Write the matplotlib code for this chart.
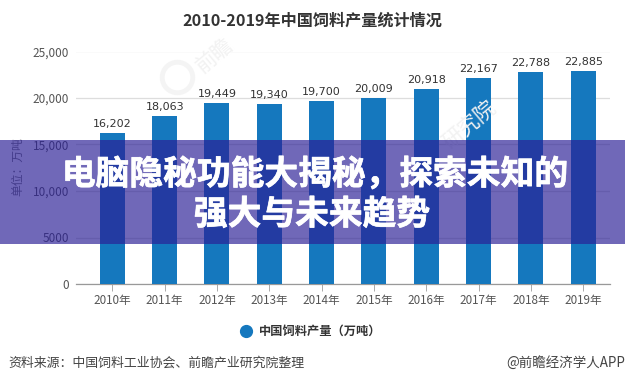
import matplotlib
matplotlib.use("Agg")
from matplotlib import pyplot as plt
from matplotlib.patches import Rectangle
import matplotlib.patheffects as pe

plt.rcParams['font.family'] = ['Noto Sans CJK SC', 'DejaVu Sans']

years = ['2010年', '2011年', '2012年', '2013年', '2014年', '2015年', '2016年', '2017年', '2018年', '2019年']
output = [16202, 18063, 19449, 19340, 19700, 20009, 20918, 22167, 22788, 22885]
yticks = [0, 5000, 10000, 15000, 20000, 25000]
ylabels = ['0', '5000', '10,000', '15,000', '20,000', '25,000']

W, H = 625, 384
fig = plt.figure(figsize=(W / 100, H / 100), dpi=100)
ax = fig.add_axes([76 / W, 1 - 284 / H, 534 / W, 232.5 / H])

xs = list(range(len(years)))
ax.bar(xs, output, width=0.478, color='#1578BE', zorder=3)
for x, v in zip(xs, output):
    ax.annotate('{:,}'.format(v), (x, v), xytext=(0, 3), textcoords='offset points',
                ha='center', va='bottom', fontsize=8, color='#333333', family='DejaVu Sans', zorder=4)

ax.set_xlim(-0.694, 9.51)
ax.set_ylim(0, 25000)
ax.set_xticks(xs)
ax.set_xticklabels(years, fontsize=8.4, color='#555555')
ax.set_yticks(yticks)
ax.set_yticklabels(ylabels, fontsize=8.5, color='#555555')
ax.tick_params(axis='y', length=0, pad=5)
ax.tick_params(axis='x', length=5, width=0.7, color='#aaaaaa', pad=2)
ax.grid(axis='y', color='#dddddd', linewidth=0.9, zorder=0)
ax.set_axisbelow(True)
for s in ['top', 'left', 'right']:
    ax.spines[s].set_visible(False)
ax.spines['bottom'].set_color('#999999')
ax.spines['bottom'].set_linewidth(0.9)


def px_text(x, y, s, **kw):
    return fig.text(x / W, 1 - y / H, s, **kw)


def px_dot(x, y, **kw):
    fig.add_artist(plt.Line2D([x / W], [1 - y / H], marker='o', linestyle='none',
                              transform=fig.transFigure, **kw))


# watermarks
px_dot(177, 77, markersize=22, markerfacecolor='none', markeredgecolor='#f4f4f4', markeredgewidth=3.5, zorder=1)
px_text(215, 55, '前瞻', fontsize=15, color='#f2f2f2', rotation=40, ha='center', va='center', zorder=1)
px_text(470, 125, '研究院', fontsize=15, color='#f2f2f2', rotation=40, ha='center', va='center', zorder=1)

px_text(312, 21, '2010-2019年中国饲料产量统计情况', fontsize=11.6, color='#333333',
        fontweight='bold', ha='center', va='center')
px_text(18, 167, '单位：万吨', fontsize=8.5, color='#777777', rotation=90, ha='center', va='center')

px_dot(246, 331, markersize=8.5, color='#1578BE')
px_text(259, 331, '中国饲料产量（万吨）', fontsize=8.8, color='#333333', fontweight='bold', ha='left', va='center')
px_text(8, 363, '资料来源：中国饲料工业协会、前瞻产业研究院整理', fontsize=9.3, color='#444444', ha='left', va='center')
px_text(625, 363, '@前瞻经济学人APP', fontsize=9.7, color='#444444', ha='right', va='center')

# band over the chart
fig.add_artist(Rectangle((0, 1 - 244 / H), 1, 104 / H, transform=fig.transFigure,
                         facecolor=(42 / 255, 30 / 255, 149 / 255), alpha=0.67, edgecolor='none', zorder=10))
stroke = [pe.withStroke(linewidth=0.5, foreground='white')]
px_text(315, 174, '电脑隐秘功能大揭秘，探索未知的', fontsize=24.3, color='white', fontweight='bold',
        ha='center', va='center', zorder=11, path_effects=stroke)
px_text(312, 214, '强大与未来趋势', fontsize=24.3, color='white', fontweight='bold',
        ha='center', va='center', zorder=11, path_effects=stroke)

fig.savefig('out.png', dpi=100)
